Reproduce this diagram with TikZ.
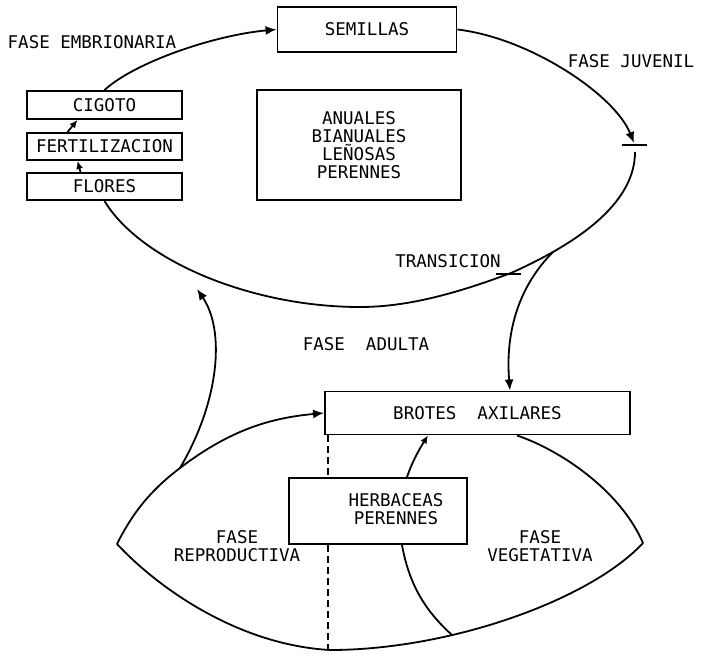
\documentclass[tikz,border=0pt]{standalone}
\usepackage{fontspec}
\setmainfont{DejaVu Sans Mono}
\usetikzlibrary{arrows.meta}
\begin{document}
\begin{tikzpicture}[x=1pt,y=-1pt,
  every node/.style={font=\fontsize{17.5}{18}\selectfont, inner sep=0pt},
  box/.style={draw, line width=1.9pt, fill=white},
  conn/.style={line width=1.8pt},
  arr/.style={conn, -{Latex[length=11pt,width=9pt]}},
  sarr/.style={conn, -{Latex[length=8pt,width=7pt]}},
  lbl/.style={align=center}]
\useasboundingbox (0,0) rectangle (707,654);
% boxes
\node[box, minimum width=179pt, minimum height=45pt] (sem) at (367,29.5) {SEMILLAS};
\node[box, minimum width=155pt, minimum height=28pt] (cig) at (104.5,105) {CIGOTO};
\node[box, minimum width=155pt, minimum height=27pt] (fer) at (104.5,146.5) {FERTILIZACION};
\node[box, minimum width=155pt, minimum height=27pt] (flo) at (104.5,186.5) {FLORES};
\node[box, minimum width=204pt, minimum height=110pt, lbl, text depth=0pt] (anu) at (359,145)
  {ANUALES\\BIANUALES\\LEÑOSAS\\PERENNES};
\node[box, minimum width=305pt, minimum height=43pt] (bro) at (477.5,413) {BROTES\ \ AXILARES};
% labels
\node (lemb) at (92,42) {FASE EMBRIONARIA};
\node (ljuv) at (631,61) {FASE JUVENIL};
\node (ltra) at (448,261) {TRANSICION};
\node (ladu) at (366,344) {FASE\ \ ADULTA};
\node[lbl] (lrep) at (237,546) {FASE\\REPRODUCTIVA};
\node[lbl] (lveg) at (540,546) {FASE\\VEGETATIVA};
% coordinates
\coordinate (j) at (634,143);
\coordinate (j2) at (635,152);
\coordinate (tr) at (511,273);
\coordinate (br) at (553,252);
\coordinate (l1) at (180,468);
\coordinate (l2) at (197,289);
\coordinate (lw) at (117,544);
\coordinate (le) at (643,543);
\coordinate (lb) at (330,650);
\coordinate (hend) at (452,635);
% big ellipse
\draw[arr] (cig.north) .. controls (135,62) and (215,35) .. (sem.west);
\draw[arr] (sem.east) .. controls (530,38) and (615,95) .. (j);
\draw[conn] (622,145) -- (647,145);
\draw[conn] (j2) .. controls (635,200) and (585,240) .. (tr)
  .. controls (460,292) and (410,307) .. (360,307)
  .. controls (250,307) and (140,260) .. (flo.south);
\draw[conn] (496,274) -- (521,274);
\draw[arr] (br) .. controls (520,285) and (505,330) .. (bro.north -| 510,0);
% small arrows
\draw[sarr] ([xshift=-24pt]flo.north) -- ([xshift=-27pt]fer.south);
\draw[sarr] ([xshift=-37pt]fer.north) -- ([xshift=-27pt]cig.south);
% lens
\draw[conn] (lw) .. controls (135,508) and (155,487) .. (l1);
\draw[arr] (l1) .. controls (220,400) and (225,330) .. (l2);
\draw[arr] (l1) .. controls (230,430) and (270,418) .. (bro.west);
\draw[conn] (bro.south -| 517,0) .. controls (560,450) and (620,490) .. (le);
\draw[conn] (le) .. controls (590,600) and (450,650) .. (lb);
\draw[conn] (lb) .. controls (240,645) and (160,590) .. (lw);
% dashed line
\draw[conn, dashed, dash pattern=on 7pt off 4pt] (bro.south -| 328,0) -- (lb -| 328,0);
% herbaceas box
\node[box, minimum width=178pt, minimum height=66pt] (her) at (378,511) {};
\node[lbl] (hert) at (396,509) {HERBACEAS\\PERENNES};
\draw[sarr] ([xshift=29pt]her.north) .. controls (412,462) and (420,448) .. ([xshift=-49.5pt]bro.south);
\draw[conn] ([xshift=24pt]her.south) .. controls (410,590) and (430,615) .. (hend);
\end{tikzpicture}
\end{document}
